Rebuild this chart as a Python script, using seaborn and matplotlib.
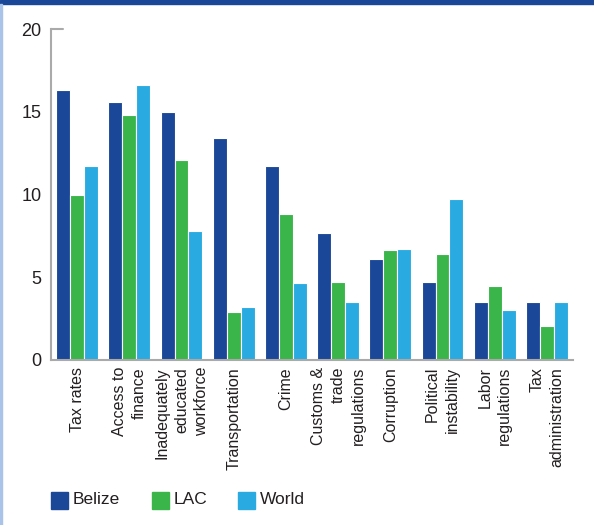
import matplotlib
matplotlib.use("Agg")
import matplotlib.pyplot as plt
import seaborn as sns
import pandas as pd
import numpy as np
from matplotlib.patches import Rectangle
from matplotlib.lines import Line2D

categories = ["Tax rates", "Access to\nfinance", "Inadequately\neducated\nworkforce",
              "Transportation", "Crime", "Customs &\ntrade\nregulations", "Corruption",
              "Political\ninstability", "Labor\nregulations", "Tax\nadministration"]
belize = [16.3, 15.6, 15.0, 13.4, 11.7, 7.7, 6.1, 4.7, 3.5, 3.5]
lac = [10.0, 14.8, 12.1, 2.9, 8.8, 4.7, 6.65, 6.4, 4.5, 2.05]
world = [11.7, 16.6, 7.8, 3.2, 4.65, 3.5, 6.7, 9.7, 3.0, 3.5]
series_names = ["Belize", "LAC", "World"]
colors = ["#1B4798", "#3AB54A", "#29ABE2"]
yticks = [0, 5, 10, 15, 20]

sns.set_style("white")
plt.rcParams['font.family'] = ['Liberation Sans', 'DejaVu Sans']

df = pd.DataFrame({
    "category": categories * 3,
    "series": sum([[s] * len(categories) for s in series_names], []),
    "value": belize + lac + world,
})

fig = plt.figure(figsize=(5.94, 5.25), dpi=100)
ax = fig.add_axes([51/594, 1-360/525, 522/594, 331/525])
sns.barplot(data=df, x="category", y="value", hue="series", order=categories,
            hue_order=series_names, palette=colors, saturation=1, width=0.8, ax=ax,
            edgecolor="white", linewidth=0.8, legend=False, errorbar=None)

ax.set_xlim(-0.5, len(categories) - 0.5)
ax.set_ylim(0, 20)
ax.set_yticks(yticks)
ax.set_xlabel("")
ax.set_ylabel("")
for s in ["top", "right"]:
    ax.spines[s].set_visible(False)
for s in ["left", "bottom"]:
    ax.spines[s].set_color("#AAAAAA")
    ax.spines[s].set_linewidth(1.5)
ax.tick_params(axis="y", direction="out", length=3, width=1.2, color="#AAAAAA",
               labelsize=13, labelcolor="#231F20", pad=4)
ax.set_xticks(range(len(categories)))
ax.set_xticklabels(categories, rotation=90, ha="center", va="top",
                   multialignment="right", fontsize=11.5, color="#231F20",
                   linespacing=1.4)
ax.tick_params(axis="x", which="major", length=0, pad=5)
ax.set_xticks(np.arange(-0.5, len(categories)), minor=True)
ax.tick_params(axis="x", which="minor", direction="in", length=6, width=1.2, color="#AAAAAA")
# top cap line at 20
ax.add_line(Line2D([0, 12/522], [1, 1], transform=ax.transAxes, color="#AAAAAA",
                   lw=1.5, clip_on=False))

# borders
fig.patches.append(Rectangle((0, 1-4/525), 1, 4/525, transform=fig.transFigure,
                             color="#1B4798", zorder=0))
fig.patches.append(Rectangle((0, 0), 2/594, 1-4/525, transform=fig.transFigure,
                             color="#A9C4E8", zorder=0))

# legend
lx = [51, 152, 238]
for x0, name, c in zip(lx, series_names, colors):
    fig.patches.append(Rectangle((x0/594, 1-509/525), 17/594, 17/525,
                                 transform=fig.transFigure, color=c))
    fig.text((x0 + 22)/594, 1-500/525, name, fontsize=12.5, color="#231F20",
             va="center", ha="left")

fig.savefig("out.png", dpi=100)
